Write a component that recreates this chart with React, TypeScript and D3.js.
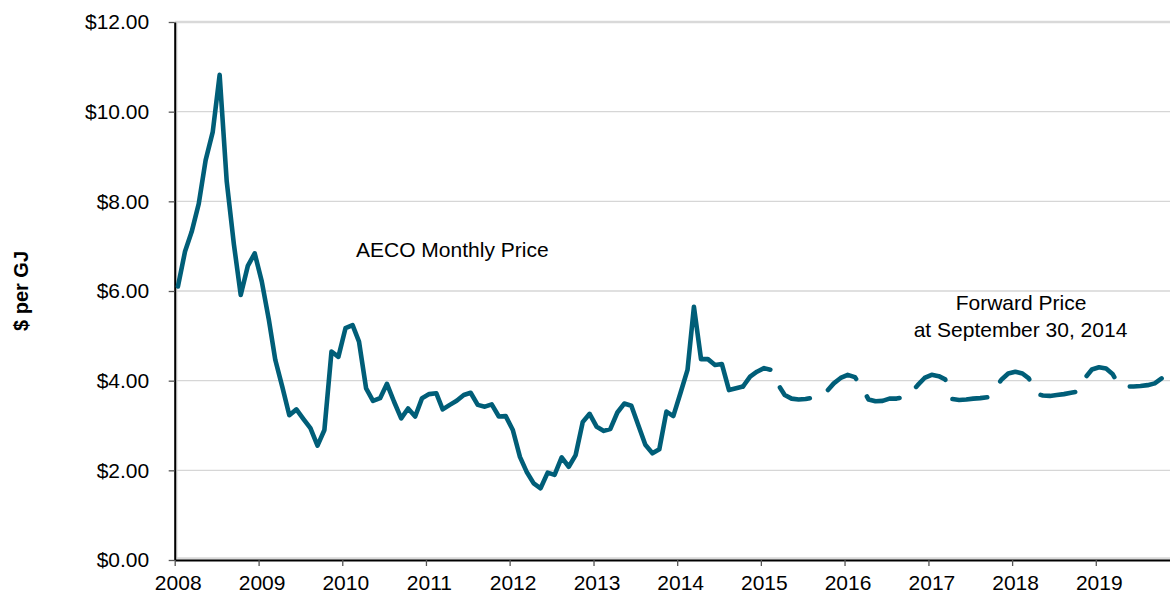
import { useEffect, useRef } from 'react';
import * as d3 from 'd3';

// AECO monthly price ($ per GJ), one value per month from Jan 2008 to Oct 2014
const historicalPrices = [
  6.10, 6.88, 7.32, 7.95, 8.92, 9.55, 10.82, 8.44, 7.05, 5.91, 6.56, 6.84,
  6.21, 5.35, 4.46, 3.85, 3.23, 3.36, 3.15, 2.94, 2.55, 2.90, 4.65, 4.53,
  5.17, 5.24, 4.87, 3.83, 3.55, 3.61, 3.93, 3.53, 3.16, 3.38, 3.20, 3.61,
  3.70, 3.72, 3.36, 3.46, 3.55, 3.68, 3.73, 3.46, 3.42, 3.47, 3.20, 3.21,
  2.90, 2.30, 1.97, 1.71, 1.60, 1.95, 1.90, 2.29, 2.08, 2.34, 3.08, 3.26,
  2.97, 2.88, 2.92, 3.29, 3.49, 3.44, 3.01, 2.57, 2.38, 2.47, 3.31, 3.21,
  3.72, 4.24, 5.65, 4.48, 4.48, 4.35, 4.37, 3.79, 3.83, 3.87,
];
const historicalStart = new Date(2008, 0, 15);

// forward strip at September 30, 2014, monthly from Oct 2014 to Oct 2019
const forwardPrices = [
  3.87, 4.09, 4.20,
  4.28, 4.24, 3.93, 3.68, 3.60, 3.58, 3.59, 3.62, 3.65, 3.76, 3.94, 4.06,
  4.13, 4.08, 3.86, 3.58, 3.54, 3.55, 3.60, 3.60, 3.63, 3.72, 3.90, 4.06,
  4.13, 4.10, 4.03, 3.59, 3.57, 3.58, 3.60, 3.61, 3.63, 3.80, 4.02, 4.16,
  4.20, 4.16, 4.05, 3.71, 3.67, 3.66, 3.68, 3.70, 3.73, 3.76, 4.06, 4.25,
  4.30, 4.27, 4.15, 3.88, 3.87, 3.87, 3.88, 3.90, 3.94, 4.05,
];
const forwardStart = new Date(2014, 9, 15);

const yTicks = [0, 2, 4, 6, 8, 10, 12];
const yearTicks = [2008, 2009, 2010, 2011, 2012, 2013, 2014, 2015, 2016, 2017, 2018, 2019];

const WIDTH = 1170;
const HEIGHT = 594;
const LEFT = 174.7;
const TOP = 22;
const BOTTOM = 560;
const YEAR_PX = 83.73;
const FONT = '"Liberation Sans", Arial, Helvetica, sans-serif';
const LINE_COLOR = '#005e78';

type Point = { date: Date; value: number };

const toPoints = (start: Date, values: number[]): Point[] =>
  values.map((value, i) => ({ date: d3.timeMonth.offset(start, i), value }));

const App = () => {
  const ref = useRef<SVGSVGElement>(null);

  useEffect(() => {
    const svg = d3.select(ref.current);
    svg.selectAll('*').remove();

    const x = d3.scaleTime()
      .domain([new Date(2008, 0, 1), new Date(2020, 0, 1)])
      .range([LEFT, LEFT + 12 * YEAR_PX]);
    const y = d3.scaleLinear().domain([0, 12]).range([BOTTOM, TOP]);

    // gridlines
    svg.append('g')
      .selectAll('line')
      .data(yTicks.filter(t => t > 0 && t < 12))
      .join('line')
      .attr('x1', LEFT)
      .attr('x2', WIDTH)
      .attr('y1', d => y(d))
      .attr('y2', d => y(d))
      .attr('stroke', '#d6d6d6')
      .attr('stroke-width', 1.3);

    // plot area border
    svg.append('rect')
      .attr('x', LEFT + 1.5)
      .attr('y', TOP)
      .attr('width', WIDTH)
      .attr('height', BOTTOM - TOP - 1.5)
      .attr('fill', 'none')
      .attr('stroke', '#d9d9d9')
      .attr('stroke-width', 2.5);

    // y axis
    const yAxis = svg.append('g')
      .attr('transform', `translate(${LEFT},0)`)
      .call(d3.axisLeft(y)
        .tickValues(yTicks)
        .tickFormat(d => `$${(+d).toFixed(2)}`)
        .tickSize(6)
        .tickSizeOuter(0)
        .tickPadding(19.5));

    // x axis
    const xAxis = svg.append('g')
      .attr('transform', `translate(0,${BOTTOM})`)
      .call(d3.axisBottom(x)
        .tickValues(yearTicks.map(yr => new Date(yr, 0, 1)))
        .tickFormat(d => d3.timeFormat('%Y')(d as Date))
        .tickSize(6)
        .tickSizeOuter(0)
        .tickPadding(9));
    xAxis.selectAll('text').attr('x', 3);

    [yAxis, xAxis].forEach(g => {
      g.select('.domain').attr('stroke', '#000').attr('stroke-width', 2);
      g.selectAll('.tick line').attr('stroke', '#555').attr('stroke-width', 1.3);
      g.selectAll('text')
        .attr('fill', '#000')
        .style('font-family', FONT)
        .style('font-size', '21px');
    });

    const line = d3.line<Point>()
      .x(d => x(d.date))
      .y(d => y(d.value));

    // historical (solid)
    svg.append('path')
      .datum(toPoints(historicalStart, historicalPrices))
      .attr('d', line)
      .attr('fill', 'none')
      .attr('stroke', LINE_COLOR)
      .attr('stroke-width', 4.6)
      .attr('stroke-linejoin', 'round')
      .attr('stroke-linecap', 'round');

    // forward (long dash)
    svg.append('path')
      .datum(toPoints(forwardStart, forwardPrices))
      .attr('d', line)
      .attr('fill', 'none')
      .attr('stroke', LINE_COLOR)
      .attr('stroke-width', 4.6)
      .attr('stroke-linejoin', 'round')
      .attr('stroke-linecap', 'round')
      .attr('stroke-dasharray', '35,20.6');

    // y axis title
    svg.append('text')
      .attr('transform', `translate(27.6,${(TOP + BOTTOM) / 2}) rotate(-90)`)
      .attr('text-anchor', 'middle')
      .style('font-family', FONT)
      .style('font-size', '20px')
      .style('font-weight', 'bold')
      .text('$ per GJ');

    // annotations
    const note = (tx: number, ty: number, label: string, anchor: string) =>
      svg.append('text')
        .attr('x', tx)
        .attr('y', ty)
        .attr('text-anchor', anchor)
        .attr('fill', '#000')
        .style('font-family', FONT)
        .style('font-size', '21px')
        .text(label);

    note(356, 257, 'AECO Monthly Price', 'start');
    note(1021, 310, 'Forward Price', 'middle');
    note(1020.5, 337, 'at September 30, 2014', 'middle');
  }, []);

  return (
    <svg
      ref={ref}
      width={WIDTH}
      height={HEIGHT}
      style={{ position: 'absolute', left: 0, top: 0, background: '#fff' }}
    />
  );
};

export default App;
